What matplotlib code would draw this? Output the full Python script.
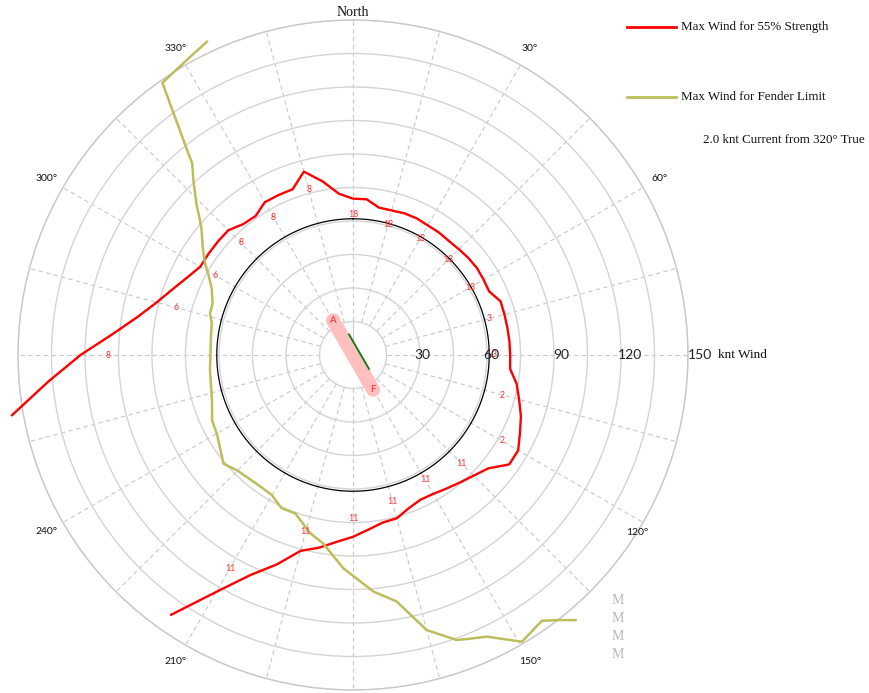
import matplotlib
matplotlib.use("Agg")
import matplotlib.pyplot as plt
from matplotlib.lines import Line2D
import numpy as np

# wind direction (deg true) and max wind (knots) for 55% line strength
red_dir = [260, 265, 270, 275, 280, 285, 290, 295, 300, 305, 310, 315, 320, 325,
           330, 335, 340, 345, 350, 355,
           0, 5, 10, 15, 20, 25, 30, 35, 40, 45, 50, 55, 60, 65, 70, 75, 80, 85,
           90, 95, 100, 105, 110, 115, 120, 125, 130, 135, 140, 145, 150, 155,
           160, 165, 170, 175, 180, 185, 190, 195, 200, 205, 210, 215]
red_kt = [155, 137, 122, 108, 98, 91, 86, 82, 79, 79, 79, 79, 76.5, 76,
          79, 79, 79, 85, 79, 72.5,
          70, 70, 67, 67, 67.5, 67.5, 67, 67, 66.7, 67, 67.5, 67.8, 67.5, 67.3,
          70.3, 70.2, 70.2, 70.3, 70.4, 70.6, 74.4, 77, 80, 82.5, 85.4, 85.4,
          79, 76.4, 74.5, 73, 71.8, 71.5, 73, 75.7, 76.2, 78.5, 81.4, 84,
          87.6, 90.8, 99.8, 108.7, 122.5, 142]

# wind direction / max wind for the fender limit
fender_dir = [140, 142, 144.6, 149.5, 152.6, 154.6, 158.2, 160, 165, 170, 175,
              182.6, 189, 193.6, 200, 205, 210, 216, 225, 230, 240, 245, 252,
              264, 277, 282.6, 286.3, 290.2, 295.3, 299, 301.8, 305.8, 309.6,
              311.4, 314, 317.6, 320, 321, 325, 330.6, 335]
fender_kt = [155, 150.6, 146, 149, 143, 139.6, 137, 135.8, 127.5, 112, 106.4,
             95.6, 85.4, 82, 75.5, 75.7, 72.5, 72, 73.2, 75.7, 70.4, 69.6, 66.4,
             64.4, 64.1, 64.8, 66.7, 67, 70, 74, 78, 83, 88,
             91.4, 97.5, 106, 112, 118, 148.8, 151.6, 154.8]

# small numbers written along the strength curve
lab_dir = [270, 285, 300, 315, 330, 345, 0, 15, 30, 45, 60, 75, 90, 105, 120,
           135, 150, 165, 180, 195, 210]
lab_txt = ["8", "6", "6", "8", "8", "8", "18", "18", "13", "13", "13", "3", "3",
           "2", "2", "11", "11", "11", "11", "11", "11"]

ref_circle_kt = 61
ship_dir = [330, 150]
ship_kt = [18, 18]
current_dir = [349, 131]
current_kt = [9.4, 9.5]

ring_kt = list(range(15, 151, 15))
ring_labels = [30, 60, 90, 120, 150]
angle_labels = [30, 60, 150, 210, 240, 300, 330]

serif = "Liberation Serif"
sans = "Lato"

fig = plt.figure(figsize=(8.69, 6.93), dpi=100)
ax = fig.add_axes([18 / 869, 3 / 693, 670 / 869, 670 / 693], projection="polar")
ax.set_theta_zero_location("N")
ax.set_theta_direction(-1)
ax.set_rlim(0, 150)
ax.set_xticks([])
ax.set_yticks(ring_kt)
ax.set_yticklabels([])
ax.yaxis.grid(True, color="#d4d4d4", lw=1.0, ls="-")
ax.spines["polar"].set_color("#c8c8c8")
ax.spines["polar"].set_linewidth(1.0)

# dashed spokes every 15 degrees
for a in range(0, 360, 15):
    t = np.deg2rad(a)
    ax.plot([t, t], [15, 150], color="#c8c8c8", lw=0.8, ls=(0, (4, 3)), zorder=1)
ax.plot([0, 0], [0, 15], color="#c8c8c8", lw=0.8, zorder=1)

th = np.linspace(0, 2 * np.pi, 361)
ax.plot(th, np.full_like(th, ref_circle_kt), color="black", lw=0.9, zorder=2)

ax.plot(np.deg2rad(red_dir), red_kt, color="#ff0000", lw=1.7, zorder=4, clip_on=False)
ax.plot(np.deg2rad(fender_dir), fender_kt, color="#bdbd5c", lw=1.8, zorder=5, clip_on=False)

red_lookup = dict(zip(red_dir, red_kt))
for d, s in zip(lab_dir, lab_txt):
    ax.text(np.deg2rad(d), 0.9 * red_lookup[d], s, color="#ff3030", fontsize=6.3,
            ha="center", va="center", family=sans, zorder=6)

ax.plot(np.deg2rad(ship_dir), ship_kt, color="#ffbfbf", lw=10, solid_capstyle="round", zorder=6)
ax.plot(np.deg2rad(current_dir), current_kt, color="#0a7d0a", lw=1.3, zorder=7)
ax.text(np.deg2rad(ship_dir[0]), ship_kt[0], "A", color="#ff2020", fontsize=7,
        ha="center", va="center", family=sans, zorder=8)
ax.text(np.deg2rad(ship_dir[1]), ship_kt[1], "F", color="#ff2020", fontsize=7,
        ha="center", va="center", family=sans, zorder=8)

# radial scale along the east spoke
for r in ring_labels:
    ax.text(np.pi / 2, r * 1.035, str(r), fontsize=10, color="#222222", family=sans,
            ha="center", va="center", zorder=9, clip_on=False)
ax.text(np.pi / 2, 163.5, "knt Wind", fontsize=9.5, family=serif, color="#111111",
        ha="left", va="center", clip_on=False)

# compass labels
ax.text(0, 153.5, "North", fontsize=10, family=serif, color="#111111",
        ha="center", va="center", clip_on=False)
for a in angle_labels:
    ax.text(np.deg2rad(a), 158.5, f"{a}°", fontsize=7.5, family=sans, color="#111111",
            ha="center", va="center", clip_on=False)
ax.text(np.deg2rad(122), 150, "120°", fontsize=7.5, family=sans, color="#111111",
        ha="center", va="center", clip_on=False)

# legend
fig.add_artist(Line2D([627 / 869, 676 / 869], [1 - 27 / 693] * 2, color="#ff0000", lw=2))
fig.text(681 / 869, 1 - 27 / 693, "Max Wind for 55% Strength", fontsize=9.4, family=serif,
         color="#111111", va="center")
fig.add_artist(Line2D([627 / 869, 676 / 869], [1 - 97 / 693] * 2, color="#bdbd5c", lw=2))
fig.text(681 / 869, 1 - 97 / 693, "Max Wind for Fender Limit", fontsize=9.4, family=serif,
         color="#111111", va="center")
fig.text(703 / 869, 1 - 140 / 693, "2.0 knt Current from 320° True", fontsize=9.4,
         family=serif, color="#111111", va="center")

for y in [601, 619, 637, 655]:
    fig.text(618 / 869, 1 - y / 693, "M", fontsize=10, family=serif, color="#b8b8b8",
             ha="center", va="center")

fig.savefig("out.png", dpi=100)
